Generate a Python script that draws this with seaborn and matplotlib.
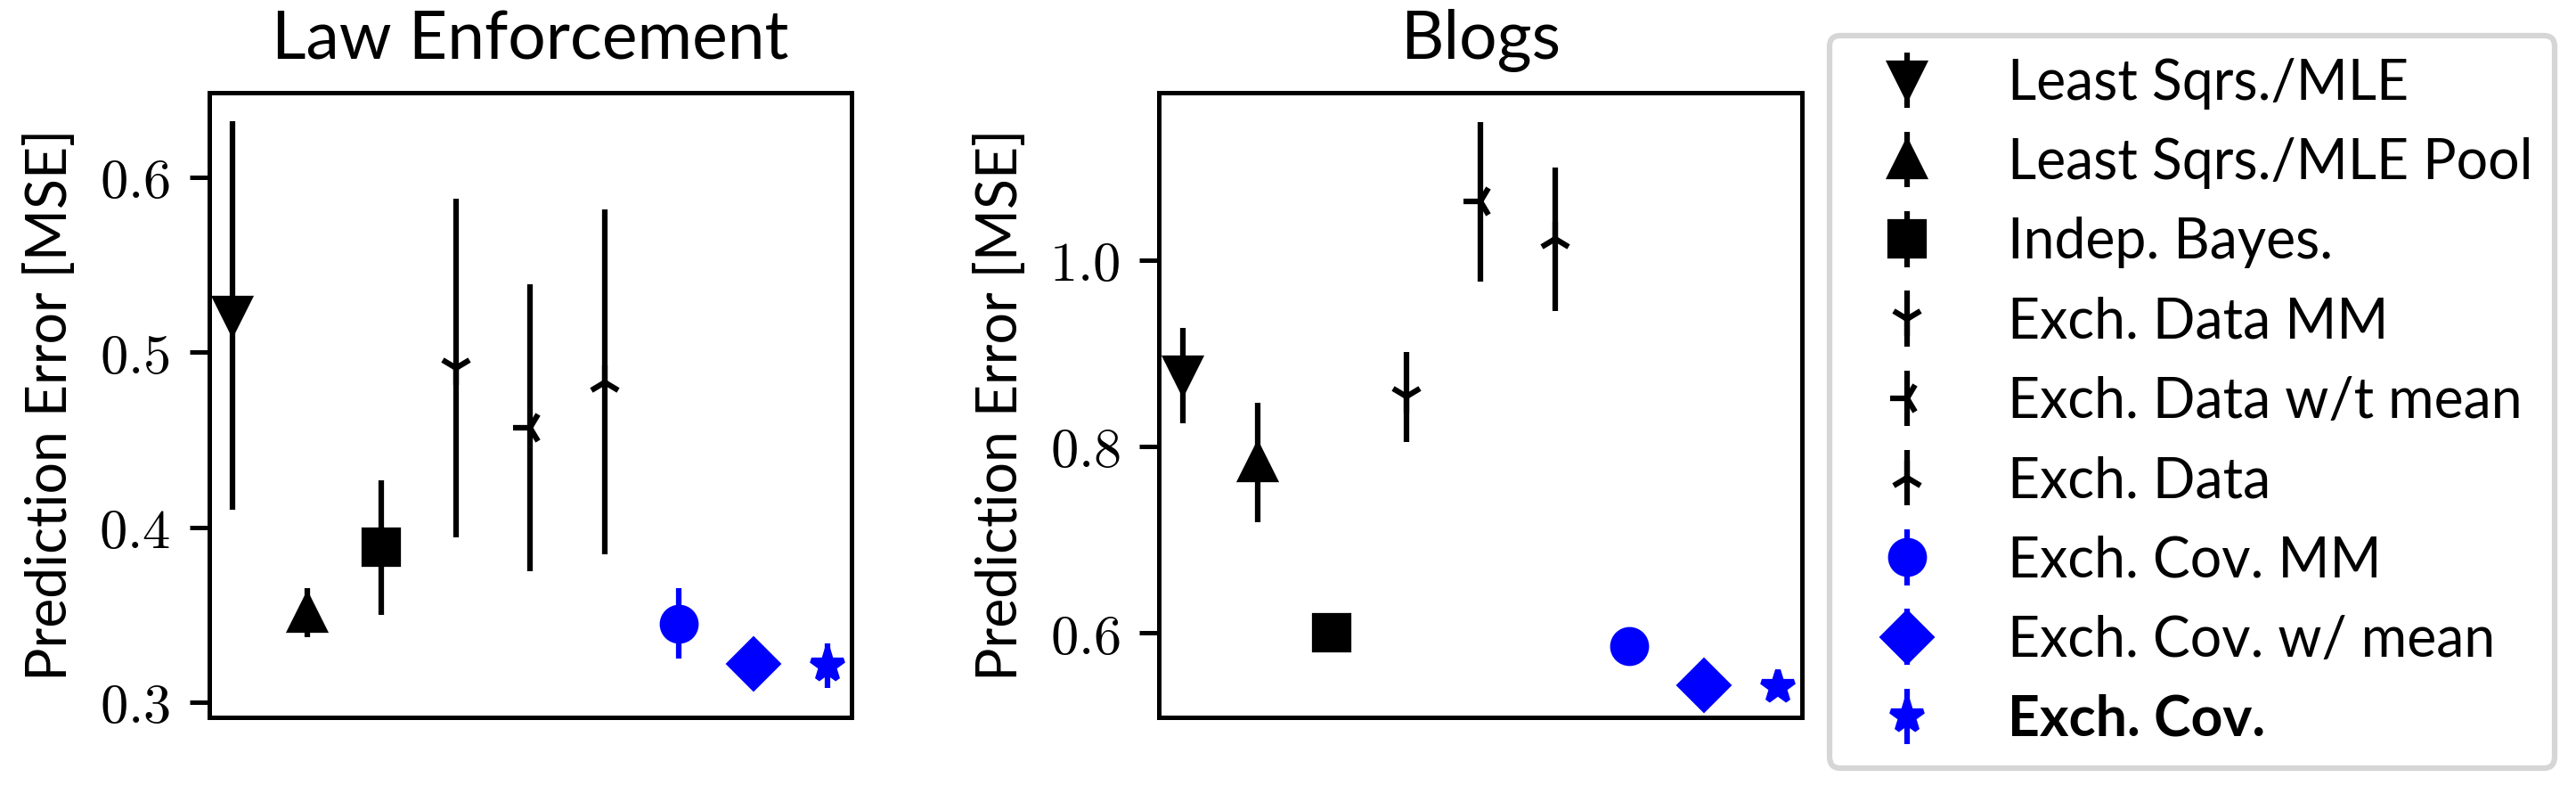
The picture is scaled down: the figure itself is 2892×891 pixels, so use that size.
import matplotlib
matplotlib.use("Agg")
import matplotlib.pyplot as plt
import seaborn as sns

# data
methods = ["Least Sqrs./MLE", "Least Sqrs./MLE Pool", "Indep. Bayes.",
           "Exch. Data MM", "Exch. Data w/t mean", "Exch. Data",
           "Exch. Cov. MM", "Exch. Cov. w/ mean", "Exch. Cov."]
markers = ["v", "^", "s", "1", "3", "2", "o", "D", "*"]
colors = ["black"] * 6 + ["blue"] * 3

law_mean = [0.521, 0.351, 0.3885, 0.491, 0.457, 0.483, 0.345, 0.322, 0.321]
law_err = [0.111, 0.014, 0.0385, 0.097, 0.082, 0.0985, 0.020, 0.008, 0.0128]

blog_mean = [0.876, 0.783, 0.600, 0.853, 1.0625, 1.022, 0.586, 0.544, 0.542]
blog_err = [0.051, 0.064, 0.010, 0.048, 0.0855, 0.077, 0.010, 0.012, 0.008]

law_ticks = [0.3, 0.4, 0.5, 0.6]
blog_ticks = [0.6, 0.8, 1.0]

sns.set_style("ticks", {"axes.edgecolor": "black", "xtick.color": "black",
                        "ytick.color": "black", "axes.labelcolor": "black",
                        "text.color": "black"})
plt.rcParams["font.family"] = ["Lato", "DejaVu Sans"]
plt.rcParams["mathtext.fontset"] = "cm"
plt.rcParams["font.size"] = 10
plt.rcParams["axes.linewidth"] = 0.8
plt.rcParams["ytick.major.width"] = 0.8
plt.rcParams["ytick.major.size"] = 3.5

fig = plt.figure(figsize=(6.4267, 1.98), dpi=450)
ax1 = fig.add_axes([0.0811, 0.0965, 0.2495, 0.7873])
ax2 = fig.add_axes([0.4500, 0.0965, 0.2495, 0.7873])


def draw(ax, means, errs, title, ticks, ylim):
    handles = []
    for i in range(len(methods)):
        h = ax.errorbar(i, means[i], yerr=errs[i], fmt=markers[i],
                        color=colors[i], ms=6, mew=1.0, elinewidth=1.0,
                        capsize=0, label=methods[i])
        handles.append(h)
    ax.set_xlim(-0.32, 8.32)
    ax.set_ylim(*ylim)
    ax.set_xticks([])
    ax.set_yticks(ticks)
    ax.set_yticklabels([f"${t:.1f}$" for t in ticks], fontsize=10)
    ax.set_ylabel("Prediction Error [MSE]", fontsize=10)
    ax.set_title(title, fontsize=12)
    return handles


handles = draw(ax1, law_mean, law_err, "Law Enforcement", law_ticks, (0.2913, 0.6486))
draw(ax2, blog_mean, blog_err, "Blogs", blog_ticks, (0.5094, 1.1796))

leg = fig.legend(handles, methods, loc="center left",
                 bbox_to_anchor=(0.7102, 0.494), fontsize=10,
                 labelspacing=0.5, borderaxespad=0)
leg.get_texts()[-1].set_fontweight("bold")

fig.savefig("out.png", dpi=450)
